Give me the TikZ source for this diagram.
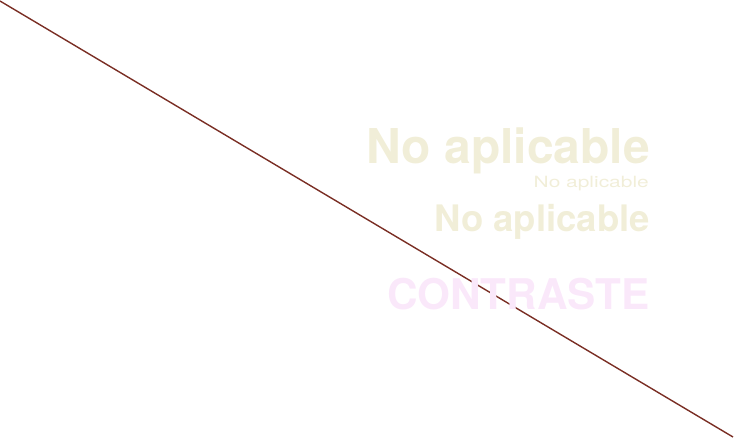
\documentclass[tikz,border=0pt]{standalone}
\usepackage{fontspec}
\setmainfont{TeX Gyre Heros}
\newfontfamily\widefont[FakeStretch=1.35]{TeX Gyre Heros}
\usepackage{tikz}
\usetikzlibrary{positioning}
\definecolor{cream}{HTML}{F1EED8}
\definecolor{blush}{HTML}{FAE8FA}
\definecolor{rust}{HTML}{7A2E24}

\begin{document}
\begin{tikzpicture}[x=1pt,y=-1pt,
		label/.style={inner sep=0pt,anchor=base east,text=cream},
		big/.style={label,font=\fontsize{48}{48}\selectfont\bfseries},
		tiny/.style={label,font=\fontsize{15.5}{15.5}\selectfont\widefont},
		mid/.style={label,font=\fontsize{36.5}{36.5}\selectfont\bfseries}]
		\useasboundingbox (0,0) rectangle (734,439);
		\coordinate (start) at (0,1);
		\coordinate (finish) at (733,437);
		\draw[rust, line width=1.4pt]  (start) -- (finish);
		\node[big]  (title) at (650,163) {No aplicable};
		\node[tiny] (sub)   at (649,187) {No aplicable};
		\node[mid]  (head)  at (650,231) {No aplicable};
		\node[label,text=blush,font=\fontsize{42.3}{42.3}\selectfont\bfseries] (contrast) at (650,309) {CONTRASTE};
\end{tikzpicture}
\end{document}
